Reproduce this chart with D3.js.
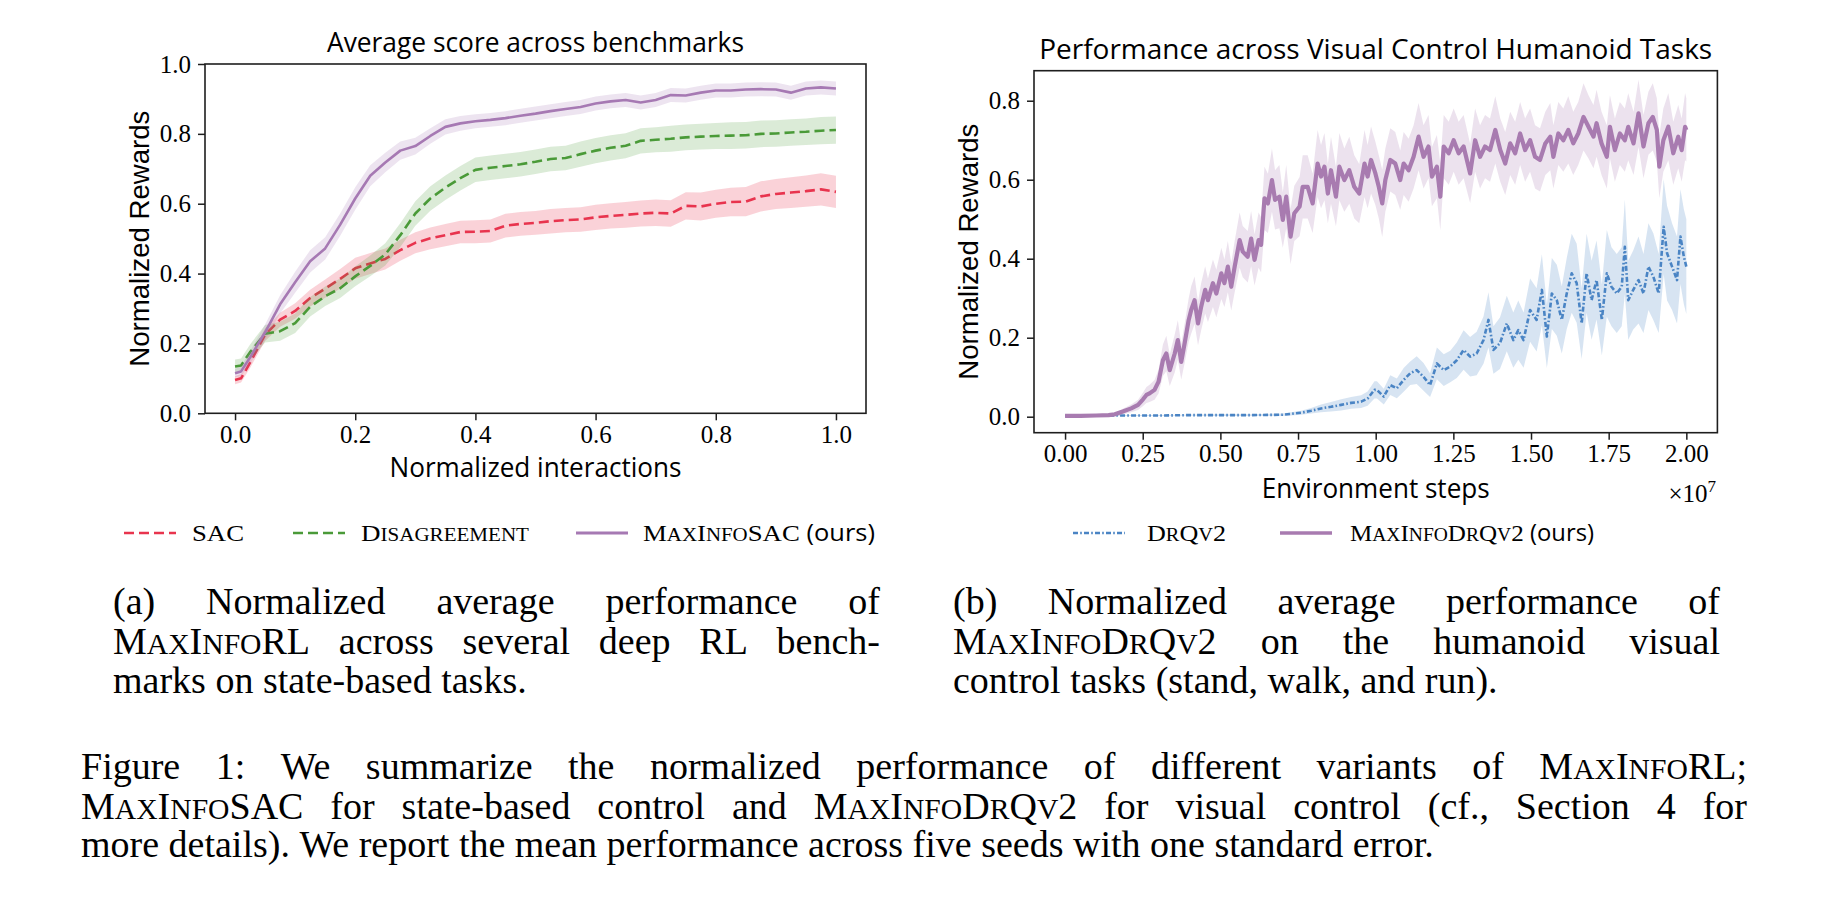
<!DOCTYPE html>
<html><head><meta charset="utf-8">
<script src="https://cdn.jsdelivr.net/npm/d3@7"></script>
<style>
body{margin:0;background:#fff}
svg{display:block}
text{white-space:pre}
</style>
</head><body>
<svg id="fig" width="1822" height="904"></svg>
<script>
// ---------------- DATA ----------------
// (a) Average score across benchmarks
const xInteractions = [0,0.01,0.025,0.05,0.075,0.1,0.125,0.15,0.175,0.2,0.225,0.25,0.275,0.3,0.325,0.35,0.375,0.4,0.425,0.45,0.475,0.5,0.525,0.55,0.575,0.6,0.625,0.65,0.675,0.7,0.725,0.75,0.775,0.8,0.825,0.85,0.875,0.9,0.925,0.95,0.975,1.0];
const sacMean = [0.095,0.1,0.145,0.225,0.268,0.293,0.33,0.357,0.385,0.415,0.429,0.442,0.467,0.488,0.501,0.51,0.519,0.52,0.522,0.537,0.542,0.545,0.55,0.553,0.555,0.561,0.565,0.568,0.572,0.574,0.572,0.594,0.592,0.6,0.605,0.606,0.621,0.628,0.632,0.636,0.641,0.634];
const sacErr = [0.012,0.012,0.015,0.018,0.02,0.022,0.024,0.026,0.028,0.03,0.03,0.03,0.03,0.03,0.031,0.032,0.032,0.033,0.033,0.034,0.034,0.034,0.035,0.035,0.035,0.036,0.036,0.037,0.037,0.038,0.038,0.039,0.04,0.04,0.041,0.042,0.043,0.043,0.044,0.045,0.046,0.046];
const disagreementMean = [0.134,0.137,0.175,0.228,0.235,0.258,0.305,0.335,0.358,0.392,0.422,0.455,0.51,0.572,0.615,0.646,0.673,0.697,0.703,0.708,0.713,0.72,0.728,0.731,0.742,0.752,0.76,0.766,0.78,0.783,0.786,0.79,0.792,0.794,0.795,0.796,0.8,0.801,0.804,0.806,0.809,0.811];
const disagreementErr = [0.02,0.02,0.022,0.025,0.027,0.028,0.028,0.028,0.028,0.028,0.03,0.032,0.034,0.035,0.035,0.035,0.035,0.035,0.035,0.035,0.035,0.035,0.035,0.035,0.036,0.036,0.036,0.036,0.036,0.036,0.037,0.037,0.037,0.037,0.038,0.038,0.038,0.038,0.038,0.038,0.039,0.039];
const maxInfoSacMean = [0.115,0.12,0.16,0.232,0.312,0.375,0.435,0.472,0.54,0.615,0.68,0.718,0.752,0.765,0.794,0.82,0.83,0.836,0.84,0.845,0.852,0.858,0.865,0.871,0.877,0.887,0.893,0.897,0.89,0.897,0.911,0.91,0.918,0.924,0.924,0.927,0.928,0.927,0.918,0.93,0.933,0.93];
const maxInfoSacErr = [0.012,0.014,0.018,0.022,0.026,0.03,0.032,0.032,0.032,0.032,0.03,0.028,0.026,0.024,0.022,0.022,0.021,0.02,0.02,0.02,0.02,0.02,0.02,0.02,0.02,0.02,0.02,0.02,0.02,0.02,0.02,0.02,0.02,0.02,0.02,0.02,0.02,0.02,0.02,0.02,0.02,0.02];
const ticksA = [0,0.2,0.4,0.6,0.8,1.0];

// (b) Visual control humanoid tasks (environment steps in units of 1e7)
const stepsMaxInfo = [0,0.05,0.10,0.14,0.16,0.186,0.213,0.235,0.251,0.262,0.272,0.288,0.301,0.315,0.326,0.337,0.353,0.363,0.374,0.385,0.398,0.406,0.417,0.428,0.438,0.451,0.46,0.476,0.487,0.503,0.513,0.524,0.535,0.546,0.562,0.572,0.588,0.599,0.61,0.623,0.631,0.642,0.653,0.666,0.676,0.69,0.701,0.712,0.726,0.738,0.755,0.765,0.781,0.797,0.813,0.824,0.835,0.846,0.856,0.872,0.883,0.899,0.915,0.931,0.947,0.964,0.974,0.985,0.999,1.01,1.021,1.031,1.047,1.063,1.079,1.09,1.106,1.122,1.138,1.154,1.17,1.181,1.197,1.208,1.219,1.235,1.251,1.267,1.283,1.304,1.32,1.336,1.352,1.368,1.385,1.401,1.417,1.433,1.449,1.465,1.481,1.497,1.513,1.529,1.546,1.562,1.572,1.588,1.604,1.62,1.636,1.652,1.669,1.685,1.701,1.711,1.727,1.744,1.754,1.77,1.786,1.802,1.813,1.83,1.846,1.862,1.878,1.892,1.905,1.913,1.926,1.942,1.958,1.974,1.985,1.996,2.0];
const rewardMaxInfo = [0.002,0.002,0.003,0.004,0.006,0.013,0.021,0.03,0.044,0.055,0.059,0.068,0.089,0.143,0.16,0.118,0.16,0.194,0.139,0.186,0.245,0.27,0.295,0.236,0.278,0.321,0.295,0.338,0.312,0.363,0.338,0.38,0.329,0.38,0.447,0.418,0.405,0.451,0.397,0.447,0.435,0.553,0.54,0.599,0.549,0.557,0.498,0.557,0.456,0.515,0.532,0.582,0.582,0.54,0.641,0.608,0.633,0.565,0.624,0.557,0.633,0.599,0.624,0.582,0.565,0.641,0.608,0.65,0.616,0.582,0.54,0.599,0.65,0.641,0.599,0.641,0.624,0.658,0.709,0.658,0.684,0.608,0.633,0.557,0.684,0.667,0.7,0.667,0.684,0.616,0.7,0.658,0.684,0.675,0.726,0.675,0.641,0.692,0.667,0.717,0.675,0.7,0.658,0.65,0.692,0.709,0.658,0.717,0.7,0.726,0.692,0.717,0.759,0.734,0.709,0.743,0.692,0.658,0.734,0.675,0.717,0.7,0.734,0.692,0.768,0.684,0.743,0.759,0.726,0.633,0.7,0.734,0.667,0.709,0.675,0.734,0.726];
const errMaxInfo = [0.002,0.002,0.002,0.003,0.004,0.007,0.01,0.013,0.017,0.02,0.022,0.025,0.03,0.04,0.045,0.04,0.048,0.05,0.045,0.05,0.055,0.06,0.06,0.055,0.06,0.06,0.055,0.06,0.06,0.065,0.06,0.065,0.06,0.065,0.07,0.065,0.065,0.07,0.065,0.07,0.07,0.08,0.075,0.08,0.075,0.08,0.07,0.08,0.07,0.07,0.075,0.08,0.08,0.075,0.085,0.08,0.085,0.075,0.085,0.075,0.085,0.08,0.085,0.08,0.075,0.085,0.08,0.085,0.08,0.08,0.085,0.08,0.08,0.08,0.075,0.08,0.08,0.08,0.085,0.08,0.08,0.075,0.08,0.085,0.08,0.08,0.08,0.08,0.08,0.075,0.08,0.08,0.08,0.08,0.085,0.08,0.08,0.08,0.08,0.08,0.08,0.08,0.08,0.08,0.08,0.085,0.08,0.08,0.08,0.085,0.08,0.08,0.085,0.08,0.08,0.085,0.08,0.08,0.08,0.08,0.08,0.08,0.085,0.08,0.085,0.08,0.08,0.085,0.08,0.08,0.08,0.085,0.08,0.08,0.08,0.085,0.08];
const stepsDrQ = [0,0.1,0.2,0.3,0.4,0.5,0.6,0.7,0.76,0.792,0.824,0.856,0.889,0.921,0.953,0.974,0.996,1.004,1.026,1.047,1.068,1.09,1.111,1.132,1.154,1.175,1.197,1.219,1.24,1.261,1.283,1.304,1.325,1.347,1.363,1.379,1.4,1.422,1.443,1.459,1.476,1.497,1.518,1.535,1.551,1.567,1.583,1.599,1.615,1.631,1.647,1.663,1.679,1.695,1.711,1.728,1.744,1.759,1.776,1.792,1.802,1.813,1.829,1.846,1.862,1.878,1.894,1.911,1.927,1.938,1.954,1.97,1.981,1.992,2.0];
const rewardDrQ = [0.002,0.003,0.003,0.003,0.004,0.004,0.004,0.005,0.01,0.015,0.021,0.025,0.03,0.035,0.038,0.046,0.068,0.068,0.051,0.08,0.072,0.093,0.11,0.118,0.101,0.08,0.135,0.118,0.127,0.143,0.169,0.152,0.16,0.194,0.245,0.169,0.186,0.236,0.194,0.219,0.194,0.27,0.245,0.321,0.203,0.312,0.295,0.245,0.312,0.363,0.338,0.236,0.363,0.295,0.346,0.245,0.363,0.329,0.312,0.329,0.43,0.295,0.321,0.346,0.312,0.38,0.354,0.312,0.481,0.414,0.38,0.346,0.456,0.405,0.38];
const errDrQ = [0.001,0.001,0.001,0.001,0.001,0.002,0.002,0.003,0.005,0.007,0.01,0.012,0.014,0.015,0.016,0.018,0.022,0.022,0.02,0.025,0.025,0.03,0.03,0.035,0.035,0.03,0.04,0.04,0.04,0.045,0.05,0.05,0.055,0.06,0.07,0.06,0.065,0.07,0.07,0.075,0.07,0.08,0.08,0.09,0.08,0.09,0.09,0.085,0.09,0.1,0.1,0.09,0.1,0.1,0.1,0.09,0.11,0.1,0.1,0.1,0.12,0.1,0.1,0.11,0.1,0.11,0.11,0.1,0.12,0.12,0.11,0.11,0.12,0.12,0.12];
const ticksBx = [0,0.25,0.5,0.75,1.0,1.25,1.5,1.75,2.0];
const ticksBy = [0,0.2,0.4,0.6,0.8];

// ---------------- STYLE ----------------
const C = {
  sac:"#e8344e", dis:"#4a9a38", maxA:"#a679b3", maxB:"#a87bb0", drq:"#4a84c4", spine:"#1e1e1e"
};
const SERIF = "'Liberation Serif','Times New Roman',serif";
const SANS = "'Open Sans','DejaVu Sans',sans-serif";
const HELV = "'Liberation Sans',Arial,sans-serif";

const svg = d3.select("#fig");

// ---------- helpers ----------
function rich(textSel, str, size){
  // {..} small caps, [..] sans
  const toks = str.match(/(\{[^}]*\}|\[[^\]]*\]|[^{\[]+)/g) || [];
  toks.forEach(t=>{
    const ts = textSel.append("tspan");
    if(t[0]==="{") ts.text(t.slice(1,-1).toUpperCase()).attr("font-size", size*0.78);
    else if(t[0]==="[") ts.text(t.slice(1,-1)).attr("font-family", SANS).attr("font-size", size*0.95);
    else ts.text(t);
  });
  return textSel;
}
function justifyLine(g, words, x0, x1, y, size, justify){
  const nodes = words.map(w=>{
    const t = g.append("text").attr("y", y).attr("font-family", SERIF).attr("font-size", size).attr("fill","#000");
    rich(t, w, size);
    return t;
  });
  const widths = nodes.map(n=>n.node().getComputedTextLength());
  const total = d3.sum(widths);
  const space = justify && words.length>1 ? (x1-x0-total)/(words.length-1) : size*0.25;
  let x = x0;
  nodes.forEach((n,i)=>{ n.attr("x", x); x += widths[i] + space; });
}

function drawPanel(cfg){
  const g = svg.append("g");
  const {x, y} = cfg;
  const [L,R] = x.range(); const [B,T] = y.range();
  const clipId = cfg.id+"clip";
  svg.append("defs").append("clipPath").attr("id",clipId)
    .append("rect").attr("x",L).attr("y",T).attr("width",R-L).attr("height",B-T);
  const plot = g.append("g").attr("clip-path",`url(#${clipId})`);
  cfg.series.forEach(s=>{
    const pts = s.xs.map((v,i)=>({x:v, m:s.mean[i], e:s.err[i]}));
    plot.append("path").datum(pts)
      .attr("d", d3.area().x(d=>x(d.x)).y0(d=>y(d.m-d.e)).y1(d=>y(d.m+d.e)))
      .attr("fill", s.color).attr("fill-opacity", s.bandOpacity||0.2).attr("stroke","none");
    plot.append("path").datum(pts)
      .attr("d", d3.line().x(d=>x(d.x)).y(d=>y(d.m)))
      .attr("fill","none").attr("stroke", s.color).attr("stroke-width", s.width)
      .attr("stroke-dasharray", s.dash||null).attr("stroke-linejoin","round");
  });
  // axes
  const ax = g.append("g").attr("transform",`translate(0,${B})`)
    .call(d3.axisBottom(x).tickValues(cfg.xticks).tickFormat(d3.format(cfg.xfmt)).tickSize(7).tickPadding(5));
  const ay = g.append("g").attr("transform",`translate(${L},0)`)
    .call(d3.axisLeft(y).tickValues(cfg.yticks).tickFormat(d3.format(cfg.yfmt)).tickSize(7).tickPadding(7));
  [ax,ay].forEach(a=>{
    a.select(".domain").remove();
    a.selectAll("line").attr("stroke",C.spine).attr("stroke-width",1.5);
    a.selectAll("text").attr("font-family",SERIF).attr("font-size",25).attr("fill","#000");
  });
  g.append("rect").attr("x",L).attr("y",T).attr("width",R-L).attr("height",B-T)
    .attr("fill","none").attr("stroke",C.spine).attr("stroke-width",1.6);
  const cx = (L+R)/2;
  g.append("text").attr("x",cx).attr("y",cfg.titleY).attr("text-anchor","middle")
    .attr("font-family",SANS).attr("font-size",28).attr("textLength",cfg.titleW).attr("lengthAdjust","spacingAndGlyphs")
    .text(cfg.title);
  g.append("text").attr("x",cx).attr("y",B+cfg.xlabOff).attr("text-anchor","middle")
    .attr("font-family",SANS).attr("font-size",27).attr("textLength",cfg.xlabW).attr("lengthAdjust","spacingAndGlyphs")
    .text(cfg.xlabel);
  g.append("text").attr("transform",`translate(${cfg.ylabX},${(T+B)/2}) rotate(-90)`).attr("text-anchor","middle")
    .attr("font-family",HELV).attr("font-size",27).attr("textLength",256).attr("lengthAdjust","spacingAndGlyphs")
    .text("Normalized Rewards");
  return g;
}

// ---------- panel (a) ----------
const xA = d3.scaleLinear().domain([-0.05,1.05]).range([205,866]);
const yA = d3.scaleLinear().domain([0,1]).range([413.3,64]);
drawPanel({
  id:"a", x:xA, y:yA, xticks:ticksA, yticks:ticksA, xfmt:".1f", yfmt:".1f",
  title:"Average score across benchmarks", titleY:52, titleW:417,
  xlabel:"Normalized interactions", xlabW:292, xlabOff:63.4, ylabX:149,
  series:[
    {xs:xInteractions, mean:sacMean, err:sacErr, color:C.sac, width:2.6, dash:"10,5", bandOpacity:0.22},
    {xs:xInteractions, mean:disagreementMean, err:disagreementErr, color:C.dis, width:2.6, dash:"10,5", bandOpacity:0.2},
    {xs:xInteractions, mean:maxInfoSacMean, err:maxInfoSacErr, color:C.maxA, width:2.6, bandOpacity:0.2}
  ]
});

// ---------- panel (b) ----------
const xB = d3.scaleLinear().domain([-0.1,2.1]).range([1034,1717.4]);
const yB = d3.scaleLinear().domain([-0.0405,0.876]).range([432.7,70.7]);
drawPanel({
  id:"b", x:xB, y:yB, xticks:ticksBx, yticks:ticksBy, xfmt:".2f", yfmt:".1f",
  title:"Performance across Visual Control Humanoid Tasks", titleY:59, titleW:673,
  xlabel:"Environment steps", xlabW:228, xlabOff:65, ylabX:978,
  series:[
    {xs:stepsDrQ, mean:rewardDrQ, err:errDrQ, color:C.drq, width:2.6, dash:"5,2.2,1.6,2.2", bandOpacity:0.22},
    {xs:stepsMaxInfo, mean:rewardMaxInfo, err:errMaxInfo, color:C.maxB, width:4.2, bandOpacity:0.22}
  ]
});
// offset text x10^7
const off = svg.append("text").attr("x",1716).attr("y",502).attr("text-anchor","end")
  .attr("font-family",SERIF).attr("font-size",25);
off.append("tspan").text("\u00d710");
off.append("tspan").attr("font-size",17).attr("dy",-10).text("7");

// ---------- legends ----------
const legend = [
  {x0:124, tx:192, tw:52,  color:C.sac, dash:"10,5", w:2.6, label:"SAC"},
  {x0:293, tx:361, tw:168, color:C.dis, dash:"10,5", w:2.6, label:"D{isagreement}"},
  {x0:576, tx:643, tw:232, color:C.maxA, dash:null, w:3, label:"M{ax}I{nfo}SAC [(ours)]"},
  {x0:1073, tx:1147, tw:79, color:C.drq, dash:"5,2.2,1.6,2.2", w:2.6, label:"D{r}Q{v}2"},
  {x0:1280, tx:1350, tw:244, color:C.maxB, dash:null, w:3.5, label:"M{ax}I{nfo}D{r}Q{v}2 [(ours)]"}
];
const lg = svg.append("g");
legend.forEach(l=>{
  lg.append("line").attr("x1",l.x0).attr("x2",l.x0+52).attr("y1",533).attr("y2",533)
    .attr("stroke",l.color).attr("stroke-width",l.w).attr("stroke-dasharray",l.dash);
  const t = lg.append("text").attr("x",l.tx).attr("y",541).attr("font-family",SERIF).attr("font-size",24)
    .attr("textLength",l.tw).attr("lengthAdjust","spacingAndGlyphs");
  rich(t, l.label, 24);
});

// ---------- captions ----------
const cap = svg.append("g");
const FS = 38;
justifyLine(cap, ["(a)","Normalized","average","performance","of"], 113, 880, 614, FS, true);
justifyLine(cap, ["M{ax}I{nfo}RL","across","several","deep","RL","bench-"], 113, 880, 654, FS, true);
justifyLine(cap, ["marks","on","state-based","tasks."], 113, 880, 693, FS, false);
justifyLine(cap, ["(b)","Normalized","average","performance","of"], 953, 1720, 614, FS, true);
justifyLine(cap, ["M{ax}I{nfo}D{r}Q{v}2","on","the","humanoid","visual"], 953, 1720, 654, FS, true);
justifyLine(cap, ["control","tasks","(stand,","walk,","and","run)."], 953, 1720, 693, FS, false);
justifyLine(cap, ["Figure","1:","We","summarize","the","normalized","performance","of","different","variants","of","M{ax}I{nfo}RL;"], 81, 1747, 779, FS, true);
justifyLine(cap, ["M{ax}I{nfo}SAC","for","state-based","control","and","M{ax}I{nfo}D{r}Q{v}2","for","visual","control","(cf.,","Section","4","for"], 81, 1747, 819, FS, true);
justifyLine(cap, ["more","details).","We","report","the","mean","performance","across","five","seeds","with","one","standard","error."], 81, 1747, 857, FS, false);
</script>
</body></html>
